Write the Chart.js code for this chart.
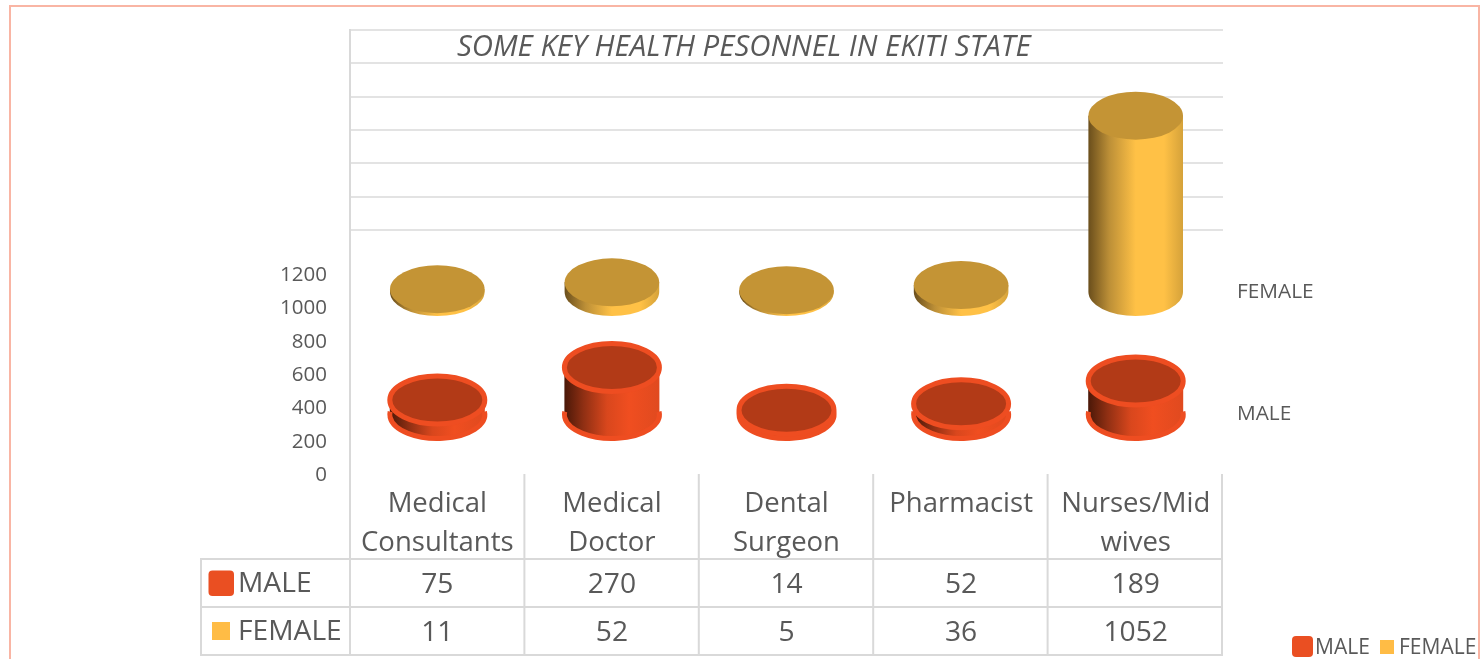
<!DOCTYPE html>
<html>
<head>
<meta charset="utf-8">
<style>html,body{margin:0;padding:0;background:#fff;overflow:hidden}canvas{display:block}</style>
<script src="https://cdn.jsdelivr.net/npm/chart.js@4"></script>
</head>
<body>
<canvas id="c" width="1482" height="659"></canvas>
<script>
const categories = [['Medical','Consultants'],['Medical','Doctor'],['Dental','Surgeon'],['Pharmacist'],['Nurses/Mid','wives']];
const maleValues = [75, 270, 14, 52, 189];
const femaleValues = [11, 52, 5, 36, 1052];
const yTicks = [0, 200, 400, 600, 800, 1000, 1200];
const titleText = 'SOME KEY HEALTH PESONNEL IN EKITI STATE';
const FONT = '"Open Sans"';
const TXT = '#595959';
const GRID = '#D9D9D9';

const looks = {
  MALE: {rx:47.5, ry:24, topRy:24, up0:59.5, upV:61.5, stroke:'#EE4D21', lw:5, top:'#B23A17',
         stops:[[0,'#4a1808'],[0.2,'#8F2F13'],[0.45,'#D9471D'],[0.68,'#F04E20'],[1,'#E04A1F']]},
  FEMALE:{rx:47.3, ry:24, topRy:24, up0:182, upV:183, stroke:null, lw:0, top:'#C49435',
         stops:[[0,'#6A4E1C'],[0.22,'#BC8F37'],[0.5,'#FFC146'],[0.8,'#FFC146'],[1,'#D5A23A']]}
};

function ell(ctx,x,y,rx,ry){ctx.beginPath();ctx.ellipse(x,y,rx,ry,0,0,Math.PI*2);}

function cylinder(ctx,x,topY,baseY,l){
  const g=ctx.createLinearGradient(x-l.rx,0,x+l.rx,0);
  l.stops.forEach(s=>g.addColorStop(s[0],s[1]));
  ctx.save();
  ctx.fillStyle=g;
  ctx.beginPath();
  ctx.moveTo(x-l.rx,topY);
  ctx.lineTo(x-l.rx,baseY);
  ctx.ellipse(x,baseY,l.rx,l.ry,0,Math.PI,0,true);
  ctx.lineTo(x+l.rx,topY);
  ctx.closePath();
  ctx.fill();
  if(l.stroke){
    ctx.strokeStyle=l.stroke;ctx.lineWidth=l.lw;
    ctx.beginPath();ctx.ellipse(x,baseY,l.rx,l.ry,0,-0.12,Math.PI+0.12);ctx.stroke();
  }
  ctx.fillStyle=l.top;
  ell(ctx,x,topY,l.rx,l.topRy);ctx.fill();
  if(l.stroke){ctx.strokeStyle=l.stroke;ctx.lineWidth=l.lw;ell(ctx,x,topY,l.rx,l.topRy);ctx.stroke();}
  ctx.restore();
}

function rr(ctx,x,y,w,h,r,c){ctx.fillStyle=c;ctx.beginPath();ctx.roundRect(x,y,w,h,r);ctx.fill();}

const decor = {
  id:'decor',
  beforeDraw(chart){
    const {ctx,scales:{y}}=chart;
    ctx.save();
    ctx.fillStyle='#fff';ctx.fillRect(0,0,1482,659);
    ctx.strokeStyle='#F9B5A4';ctx.lineWidth=2;
    ctx.beginPath();ctx.moveTo(10,659);ctx.lineTo(10,6);ctx.lineTo(1479,6);ctx.lineTo(1479,659);ctx.stroke();
    ctx.strokeStyle='#E3E3E3';ctx.lineWidth=2;
    yTicks.forEach(t=>{
      const py=Math.round(y.getPixelForValue(t)-244);
      ctx.beginPath();ctx.moveTo(350,py);ctx.lineTo(1223,py);ctx.stroke();
    });
    ctx.fillStyle=TXT;ctx.font='italic 29.4px '+FONT;ctx.textAlign='left';ctx.textBaseline='middle';
    ctx.fillText(titleText,457,48);
    ctx.strokeStyle=GRID;ctx.lineWidth=2;
    ctx.beginPath();ctx.moveTo(350,29);ctx.lineTo(350,655);
    for(let i=1;i<=5;i++){ctx.moveTo(350+174.4*i,474);ctx.lineTo(350+174.4*i,655);}
    ctx.moveTo(201,559);ctx.lineTo(201,655);
    [559,607,655].forEach(r=>{ctx.moveTo(200,r);ctx.lineTo(1223,r);});
    ctx.stroke();
    ctx.restore();
  },
  beforeDatasetDraw(chart,args){
    const meta=chart.getDatasetMeta(args.index);
    const ds=chart.data.datasets[args.index];
    const l=looks[ds.label];
    const y=chart.scales.y;
    meta.data.forEach(el=>{
      cylinder(chart.ctx,el.x,el.y-l.upV,y.getPixelForValue(0)-l.up0,l);
    });
    return false;
  },
  afterDraw(chart){
    const {ctx,scales:{x}}=chart;
    ctx.save();
    ctx.fillStyle=TXT;ctx.textBaseline='middle';
    ctx.font='20.8px '+FONT;ctx.textAlign='left';
    ctx.fillText('FEMALE',1237,292);
    ctx.fillText('MALE',1237,414);
    ctx.font='28.2px '+FONT;
    rr(ctx,208.5,570.5,25.5,25.5,4,'#EA4F22');
    rr(ctx,212,622,18,18,0,'#FFBC45');
    ctx.fillStyle=TXT;
    ctx.fillText('MALE',238,584);
    ctx.fillText('FEMALE',238,632);
    ctx.textAlign='center';
    maleValues.forEach((v,i)=>ctx.fillText(String(v),x.getPixelForValue(i),585));
    femaleValues.forEach((v,i)=>ctx.fillText(String(v),x.getPixelForValue(i),633));
    rr(ctx,1292,636,21,21,4,'#EA4F22');
    rr(ctx,1380,640,14,14,0,'#FFBC45');
    ctx.fillStyle=TXT;ctx.textAlign='left';ctx.font='21px '+FONT;
    ctx.fillText('MALE',1315,648);
    ctx.fillText('FEMALE',1399,648);
    ctx.restore();
  }
};

new Chart(document.getElementById('c'),{
  type:'bar',
  data:{labels:categories,datasets:[
    {label:'MALE',data:maleValues,backgroundColor:'#EA4F22',grouped:false},
    {label:'FEMALE',data:femaleValues,backgroundColor:'#FFBC45',grouped:false}
  ]},
  options:{
    responsive:false,animation:false,devicePixelRatio:1,
    layout:{padding:{left:200,right:259,top:274,bottom:100}},
    plugins:{legend:{display:false},title:{display:false},tooltip:{enabled:false}},
    scales:{
      x:{
        afterFit(s){s.height=85;},
        grid:{display:false,drawTicks:false},border:{display:false},
        ticks:{autoSkip:false,maxRotation:0,minRotation:0,padding:11,color:TXT,font:{family:'Open Sans',size:27.5,lineHeight:1.42}}
      },
      y:{
        min:0,max:1200,
        afterFit(s){s.width=150;},
        afterBuildTicks(s){s.ticks=yTicks.map(v=>({value:v}));},
        grid:{display:false,drawTicks:false},border:{display:false},
        ticks:{padding:23,labelOffset:1,color:TXT,font:{family:'Open Sans',size:20.5},callback:v=>String(v)}
      }
    }
  },
  plugins:[decor]
});
</script>
</body>
</html>
